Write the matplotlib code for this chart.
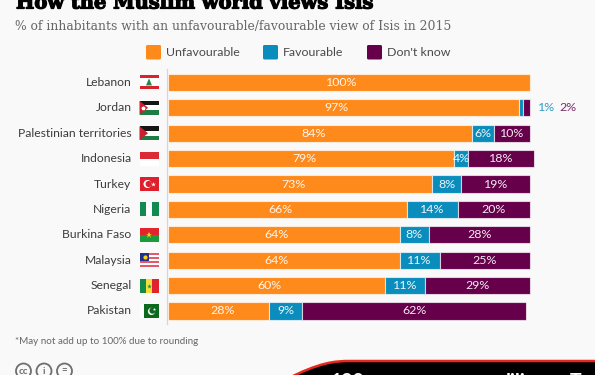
import matplotlib
matplotlib.use("Agg")
import matplotlib.pyplot as plt
import matplotlib.patheffects as pe
from matplotlib.patches import Rectangle, Circle, Polygon, FancyBboxPatch, PathPatch
from matplotlib.path import Path

countries = ["Lebanon", "Jordan", "Palestinian territories", "Indonesia", "Turkey",
             "Nigeria", "Burkina Faso", "Malaysia", "Senegal", "Pakistan"]
unfavourable = [100, 97, 84, 79, 73, 66, 64, 64, 60, 28]
favourable = [0, 1, 6, 4, 8, 14, 8, 11, 11, 9]
dont_know = [0, 2, 10, 18, 19, 20, 28, 25, 29, 62]
series_names = ["Unfavourable", "Favourable", "Don't know"]
colors = ["#FF8A1C", "#0A8DBD", "#66004A"]
BG = "#F9F9F9"
SANS = "Lato"

W, H = 595, 375
fig = plt.figure(figsize=(W / 100, H / 100), dpi=100, facecolor=BG)

# pixel overlay for text, legend, flags
ov = fig.add_axes([0, 0, 1, 1])
ov.set_xlim(0, W); ov.set_ylim(H, 0); ov.axis("off")

# data axes
x0, x1 = 168, 530
top, bottom = 69.7, 323.7
ax = fig.add_axes([x0 / W, 1 - bottom / H, (x1 - x0) / W, (bottom - top) / H])
ax.patch.set_alpha(0)
ax.set_xlim(0, 100)
ax.set_ylim(len(countries) - 0.5, -0.5)
ax.axis("off")

for i, c in enumerate(countries):
    left = 0
    for vals, col in zip((unfavourable, favourable, dont_know), colors):
        v = vals[i]
        if v == 0:
            continue
        bars = ax.barh(i, v, left=left, height=0.68, color=col,
                       edgecolor=(1, 1, 1, 0.65), linewidth=0.8)
        for b in bars:
            b.set_clip_on(False)
        if not (c == "Jordan" and col != colors[0]):
            dx = 0
            if col == colors[0]:
                dx = -5 if v > 30 else 3
            t = ax.annotate(f"{v}%", (left + v / 2, i), xytext=(dx, 0), textcoords="offset points",
                            ha="center", va="center", color="white",
                            fontsize=8.9, family=SANS, alpha=0.92, annotation_clip=False)
        left += v
ax.text(102.2, 1, "1%", color="#2E9CC8", fontsize=8.9, family=SANS, va="center", ha="left", clip_on=False)
ax.text(108.0, 1, "2%", color="#7D2A68", fontsize=8.9, family=SANS, va="center", ha="left", clip_on=False)

# axis line
ov.plot([167.3, 167.3], [69, 324], color="#D6D6D6", lw=0.9, zorder=1)

# title and subtitle
ov.text(16, 8.5, "How the Muslim world views Isis", family="DejaVu Serif", weight="bold",
        fontsize=14.0, color="#000000", va="baseline", ha="left",
        path_effects=[pe.withStroke(linewidth=0.9, foreground="#000000")])
ov.text(15, 30, "% of inhabitants with an unfavourable/favourable view of Isis in 2015",
        family="DejaVu Serif", fontsize=8.95, color="#666666", va="baseline", ha="left")

# legend
for lx, tx, name, col in zip([146, 263, 367], [166, 283, 387], series_names, colors):
    ov.add_patch(FancyBboxPatch((lx, 45), 15, 14.5, boxstyle="round,pad=0,rounding_size=1.5",
                                fc=col, ec="none"))
    ov.text(tx, 52.3, name, family=SANS, fontsize=8.9, color="#4A4A4A", va="center", ha="left")

# category labels
ys = [82.4, 107.8, 133.2, 158.6, 184, 209.4, 234.8, 260.2, 285.6, 311]
for c, y in zip(countries, ys):
    ov.text(131.5, y, c, family=SANS, fontsize=8.7, color="#3C3C3C", va="center", ha="right")

# flags
fx, fw, fh = 139.5, 19, 14
def band(y, frac0, frac1, col, xa=0, xb=1):
    ov.add_patch(Rectangle((fx + xa * fw, y - fh / 2 + frac0 * fh), (xb - xa) * fw,
                           (frac1 - frac0) * fh, fc=col, ec="none", zorder=3))
def tri(y, col, depth=0.45):
    ov.add_patch(Polygon([(fx, y - fh / 2), (fx + depth * fw, y), (fx, y + fh / 2)],
                         fc=col, ec="none", zorder=4))
def hstripes(y, cols):
    n = len(cols)
    for k, col in enumerate(cols):
        band(y, k / n, (k + 1) / n, col)
def vstripes(y, cols):
    n = len(cols)
    for k, col in enumerate(cols):
        band(y, 0, 1, col, k / n, (k + 1) / n)

G, R = "#1E7B45", "#D8232F"
band(ys[0], 0, 1, "white"); band(ys[0], 0, .22, R); band(ys[0], .78, 1, R)
ov.add_patch(Polygon([(fx + 9.5, ys[0] - 4), (fx + 12.5, ys[0] + 3), (fx + 6.5, ys[0] + 3)],
                     fc="#1E8A4C", ec="none", zorder=4))
for idx in (1, 2):
    hstripes(ys[idx], ["#151515", "#FFFFFF", G])
    tri(ys[idx], "#C8202F")
ov.plot([fx + 3.5], [ys[1]], marker="*", ms=2.5, color="white", zorder=5)
hstripes(ys[3], ["#DB2A35", "#FFFFFF"])
band(ys[4], 0, 1, "#E01F2D")
ov.add_patch(Circle((fx + 8, ys[4]), 4, fc="white", ec="none", zorder=4))
ov.add_patch(Circle((fx + 9.2, ys[4]), 3.1, fc="#E01F2D", ec="none", zorder=5))
ov.plot([fx + 13], [ys[4]], marker="*", ms=3.5, color="white", mew=0, zorder=6)
vstripes(ys[5], ["#128A50", "#FFFFFF", "#128A50"])
hstripes(ys[6], ["#E0262C", "#1B9A3E"])
ov.plot([fx + 9.5], [ys[6]], marker="*", ms=5, color="#F5D21F", mew=0, zorder=5)
hstripes(ys[7], ["#E45A6B", "#FFFFFF"] * 3 + ["#E45A6B"])
band(ys[7], 0, .57, "#232F8E", 0, .5)
ov.plot([fx + 5], [ys[7] - 3.2], marker="o", ms=3, color="#F4D21F", mew=0, zorder=5)
vstripes(ys[8], ["#138A4A", "#F3DF3A", "#E0232E"])
ov.plot([fx + 9.5], [ys[8]], marker="*", ms=3.5, color="#138A4A", mew=0, zorder=5)
band(ys[9], 0, 1, "#0B6A1E", .25, 1); band(ys[9], 0, 1, "white", 0, .25)
ov.add_patch(Circle((fx + 12, ys[9] + 0.4), 3.6, fc="white", ec="none", zorder=4))
ov.add_patch(Circle((fx + 13, ys[9] - 0.4), 3.1, fc="#0B6A1E", ec="none", zorder=5))
ov.plot([fx + 14.5], [ys[9] - 2.5], marker="*", ms=2.5, color="white", mew=0, zorder=6)

# footnote
ov.text(15, 344, "*May not add up to 100% due to rounding", family=SANS, fontsize=7.1,
        color="#666666", va="baseline", ha="left")

# licence icons
for cx, s in zip([23.5, 44, 64.5], ["cc", "i", "="]):
    ov.add_patch(Circle((cx, 371), 7.5, fc="none", ec="#6E6E6E", lw=1.3, clip_on=True))
    ov.text(cx, 371, s, family=SANS, fontsize=7, weight="bold", color="#6E6E6E",
            ha="center", va="center")

# cropped badge
verts = [(285, 380), (320, 362), (335, 361), (350, 361), (600, 361), (600, 380), (285, 380)]
codes = [Path.MOVETO, Path.CURVE4, Path.CURVE4, Path.CURVE4, Path.LINETO, Path.LINETO, Path.CLOSEPOLY]
ov.add_patch(PathPatch(Path(verts, codes), fc="#000000", ec="#E8281E", lw=1.8, zorder=6))
ov.text(331, 387, "190", color="white", fontsize=14, weight="bold", family=SANS,
        va="baseline", ha="left", zorder=7)
ov.text(506, 387, "lili", color="white", fontsize=14, weight="bold", family=SANS,
        va="baseline", ha="left", zorder=7)
ov.text(570, 387, "T", color="white", fontsize=14, weight="bold", family=SANS,
        va="baseline", ha="left", zorder=7)

fig.savefig("out.png", dpi=100, facecolor=BG)
